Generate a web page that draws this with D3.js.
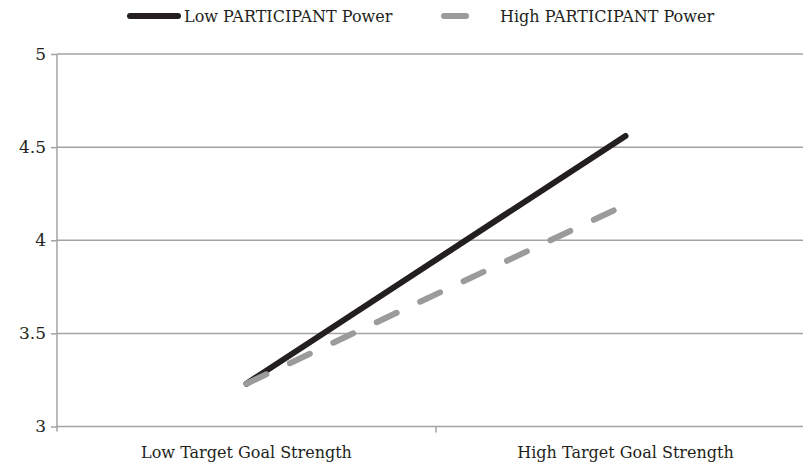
<!DOCTYPE html>
<html>
<head>
<meta charset="utf-8">
<script src="https://cdn.jsdelivr.net/npm/d3@7"></script>
<style>
  body { margin: 0; background: #fff; }
  text { font-family: "DejaVu Serif", "Liberation Serif", serif; fill: #231f20; }
</style>
</head>
<body>
<div id="chart"></div>
<script>
// data
const categories = ["Low Target Goal Strength", "High Target Goal Strength"];
const lowPower = [3.23, 4.56];
const highPower = [3.23, 4.19];
const seriesNames = ["Low PARTICIPANT Power", "High PARTICIPANT Power"];
const yTicks = [3, 3.5, 4, 4.5, 5];

// set the dimensions and margins of the graph
const width = 803, height = 463;
const margin = {top: 54, left: 57, bottom: 36.5};
const plotRight = 815;

const svg = d3.select("#chart")
  .append("svg")
    .attr("width", width)
    .attr("height", height);

// scales
const xBand = d3.scaleBand()
  .domain(categories)
  .range([margin.left, plotRight]);
const x = d => xBand(d) + xBand.bandwidth() / 2;

const y = d3.scaleLinear()
  .domain([3, 5])
  .range([height - margin.bottom, margin.top]);

// gridlines
svg.append("g")
  .selectAll("line")
  .data(yTicks)
  .enter()
  .append("line")
    .attr("x1", margin.left)
    .attr("x2", plotRight)
    .attr("y1", d => y(d))
    .attr("y2", d => y(d))
    .attr("stroke", "#a3a3a3")
    .attr("stroke-width", 1.5);

// y axis
const yAxis = svg.append("g")
  .attr("transform", `translate(${margin.left},0)`)
  .call(d3.axisLeft(y)
    .tickValues(yTicks)
    .tickFormat(d3.format("~g"))
    .tickSizeInner(6)
    .tickSizeOuter(0)
    .tickPadding(5));
yAxis.select(".domain").attr("stroke", "#a3a3a3").attr("stroke-width", 1.5)
  .attr("d", `M0,${y(5)}V${y(3) + 5}`);
yAxis.selectAll(".tick line").attr("stroke", "#a3a3a3").attr("stroke-width", 1.5);
yAxis.selectAll(".tick text").style("font-size", "17px").attr("fill", "#231f20");

// x axis
const xAxis = svg.append("g")
  .attr("transform", `translate(0,${y(3)})`)
  .call(d3.axisBottom(xBand)
    .tickSizeInner(0)
    .tickSizeOuter(0)
    .tickPadding(20));
xAxis.select(".domain").remove();
xAxis.selectAll(".tick text").style("font-size", "16px").attr("fill", "#231f20");
// category boundary ticks
xAxis.append("g")
  .selectAll("line")
  .data(categories.slice(1))
  .enter()
  .append("line")
    .attr("x1", d => xBand(d))
    .attr("x2", d => xBand(d))
    .attr("y1", 0)
    .attr("y2", 6)
    .attr("stroke", "#a3a3a3")
    .attr("stroke-width", 1.5);

// lines
const line = d3.line()
  .x((d, i) => x(categories[i]))
  .y(d => y(d));

svg.append("path")
  .datum(lowPower)
  .attr("fill", "none")
  .attr("stroke", "#231f20")
  .attr("stroke-width", 6)
  .attr("stroke-linecap", "round")
  .attr("d", line);

svg.append("path")
  .datum(highPower)
  .attr("fill", "none")
  .attr("stroke", "#9b9b9b")
  .attr("stroke-width", 6)
  .attr("stroke-linecap", "round")
  .attr("stroke-dasharray", "22,26")
  .attr("d", line);

// legend
const legend = svg.append("g").attr("transform", "translate(0,16)");
legend.append("line")
  .attr("x1", 130).attr("x2", 178).attr("y1", 0).attr("y2", 0)
  .attr("stroke", "#231f20").attr("stroke-width", 6).attr("stroke-linecap", "round");
legend.append("text")
  .attr("x", 184).attr("y", 6)
  .style("font-size", "16px")
  .text(seriesNames[0]);
legend.append("line")
  .attr("x1", 444).attr("x2", 466).attr("y1", 0).attr("y2", 0)
  .attr("stroke", "#9b9b9b").attr("stroke-width", 6).attr("stroke-linecap", "round");
legend.append("text")
  .attr("x", 500).attr("y", 6)
  .style("font-size", "16px")
  .text(seriesNames[1]);
</script>
</body>
</html>
